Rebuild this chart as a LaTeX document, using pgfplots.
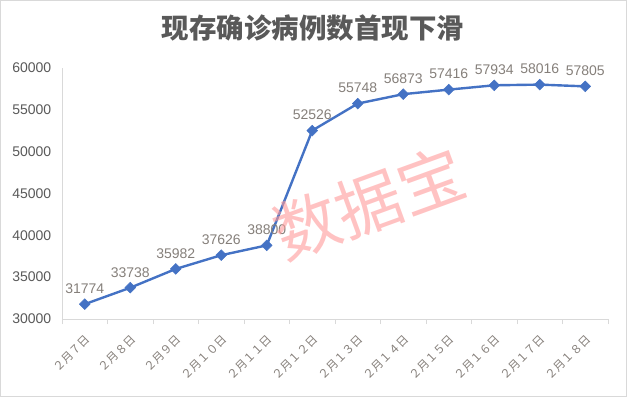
\documentclass[border=0pt]{standalone}
\usepackage{pgfplots}
\pgfplotsset{compat=1.18}
\usepackage{fontspec}
\setmainfont{Liberation Sans}
\newfontfamily\cjk{Noto Sans CJK SC}
\definecolor{serie}{HTML}{4472C4}
\definecolor{framec}{HTML}{D9D9D9}
\definecolor{titlegray}{HTML}{595959}
\definecolor{tickgray}{HTML}{595959}
\definecolor{labelgray}{HTML}{857F7A}
\definecolor{wm}{HTML}{FF9A9A}
\begin{document}
\begin{tikzpicture}
\draw[framec, line width=1pt] (0.5pt,0.5pt) rectangle (626.5pt,396.5pt);
\node[font=\cjk\bfseries\fontsize{27.5}{29}\selectfont, text=titlegray] at (313pt,369pt) {现存确诊病例数首现下滑};
\begin{axis}[
  at={(62pt,78pt)}, anchor=south west,
  scale only axis, width=546pt, height=251pt,
  xmin=-0.5, xmax=11.5, ymin=30000, ymax=60000,
  axis x line*=bottom, axis y line*=left,
  axis line style={framec, line width=0.8pt, -},
  ytick={30000,35000,...,60000},
  scaled y ticks=false,
  /pgf/number format/1000 sep={},
  /pgf/number format/assume math mode=true,
  yticklabel style={font=\fontsize{14}{14}\selectfont, text=tickgray, xshift=-3pt},
  ytick style={draw=none},
  xtick={0,...,11},
  xticklabels={２月７日,２月８日,２月９日,２月１０日,２月１１日,２月１２日,２月１３日,２月１４日,２月１５日,２月１６日,２月１７日,２月１８日},
  xticklabel style={font=\cjk\fontsize{11.5}{12}\selectfont, text=labelgray, rotate=45, anchor=east, yshift=-12pt, xshift=-4pt},
  major x tick style={draw=none},
  minor xtick={-0.5,0.5,...,11.5},
  minor x tick style={framec, line width=0.8pt},
  minor tick length=5pt,
  tick align=outside,
  clip=false,
  nodes near coords,
  every node near coord/.append style={font=\fontsize{14}{14}\selectfont, text=labelgray, anchor=south, yshift=7pt},
]
\addplot[serie, line width=2.4pt, mark=square*, mark size=3.8pt, mark options={rotate=45, fill=serie, draw=serie, line width=0.5pt}] coordinates {
(0,31774) (1,33738) (2,35982) (3,37626) (4,38800) (5,52526) (6,55748) (7,56873) (8,57416) (9,57934) (10,58016) (11,57805)
};
\end{axis}
\node[rotate=20, text=wm, opacity=0.6, font=\cjk\fontsize{66}{66}\selectfont] at (369pt,194pt) {数据宝};
\end{tikzpicture}
\end{document}
